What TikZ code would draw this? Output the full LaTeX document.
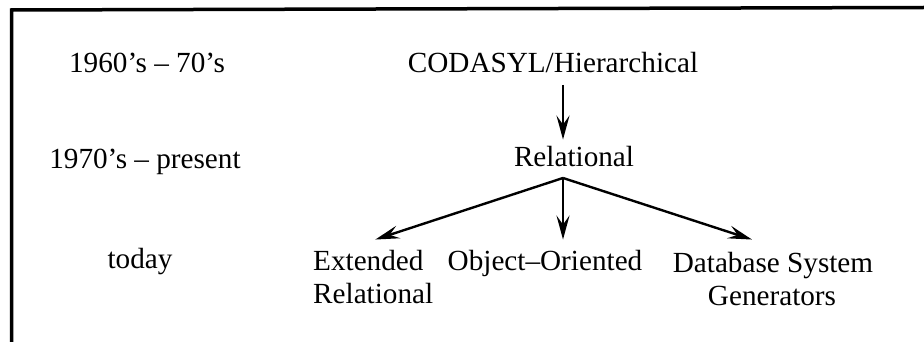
\documentclass[tikz,border=0pt]{standalone}
\usepackage{fontspec}
\setmainfont{Liberation Serif}
\usetikzlibrary{arrows.meta,calc}
\begin{document}
\begin{tikzpicture}[x=1pt,y=-1pt,
  lbl/.style={inner sep=0pt, anchor=base, font=\fontsize{29.2}{33}\selectfont},
  arr/.style={line width=2.4pt, -{Stealth[length=24pt,width=13pt,inset=9pt]}},
  frame/.style={line width=3.5pt}]
\useasboundingbox (0,0) rectangle (924,342);
% partial frame
\coordinate (fl) at (11.5,342);
\coordinate (fc) at (11.5,10);
\coordinate (fr) at (924,7.5);
\draw[frame] (fl) -- (fc) -- (fr);
% era labels
\node[lbl] (e1) at (147,73) {1960’s \textendash\ 70’s};
\node[lbl] (e2) at (145,168) {1970’s \textendash\ present};
\node[lbl] (e3) at (140,268) {today};
% models
\node[lbl] (cod) at (553,73) {CODASYL/Hierarchical};
\node[lbl] (rel) at (574,167) {Relational};
\node[lbl, anchor=base west] (ext1) at (313,270) {Extended};
\node[lbl, anchor=base west] (ext2) at (313,303) {Relational};
\node[lbl] (oo) at (545,270) {Object\textendash Oriented};
\node[lbl] (dbs1) at (773,272) {Database System};
\node[lbl] (dbs2) at (772,305) {Generators};
% connectors
\coordinate (br) at ($(rel.base)+(-11,11)$);
\draw[arr] ($(cod.base)+(10,12)$) -- ($(rel.north -| br)+(0,-7)$);
\draw[arr] (br) -- ($(ext1.north)+(7,-10)$);
\draw[arr] (br) -- ($(oo.north -| br)+(0,-10)$);
\draw[arr] (br) -- ($(dbs1.north)+(-21,-12)$);
\end{tikzpicture}
\end{document}
